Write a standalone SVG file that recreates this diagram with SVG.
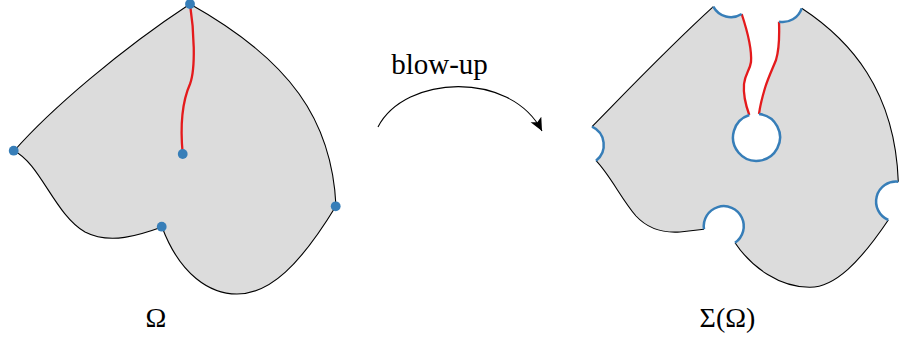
<svg xmlns="http://www.w3.org/2000/svg" width="899" height="340" viewBox="0 0 899 340">
<style>
.region{fill:#dcdcdc;stroke:none}
.edge{fill:none;stroke:#000;stroke-width:1.1}
.cut{fill:none;stroke:#e41a1c;stroke-width:2.3}
.bdry{fill:none;stroke:#377eb8;stroke-width:2.5}
.pt{fill:#377eb8}
.lbl{font-family:'Liberation Serif','DejaVu Serif',serif;fill:#000}
</style>
<defs>
<marker id="ah" markerUnits="userSpaceOnUse" markerWidth="16" markerHeight="14" refX="13" refY="6" orient="auto">
<path d="M0,0 L13,6 L0,12 L3,6 z" fill="#000"/>
</marker>
</defs>
<rect width="899" height="340" fill="#fff"/>

<g id="omega">
<path class="region" d="M190,4 C290,60 332,120 336,206 C300,265 270,294 237,294 C210,294 180,275 162,227 C140,235 110,245 85,232 C55,215 40,163 14,151 C50,110 120,50 190,4 Z"/>
<path class="edge" d="M190,4 C290,60 332,120 336,206 C300,265 270,294 237,294 C210,294 180,275 162,227 C140,235 110,245 85,232 C55,215 40,163 14,151 C50,110 120,50 190,4 Z"/>
<path class="cut" d="M190,4 C194,30 196,68 190,84 C182,102 180,125 182.7,154"/>
<circle class="pt" cx="190" cy="4" r="4.9"/>
<circle class="pt" cx="13.7" cy="150.7" r="4.9"/>
<circle class="pt" cx="161.7" cy="226.7" r="4.9"/>
<circle class="pt" cx="335.7" cy="206.3" r="4.9"/>
<circle class="pt" cx="182.7" cy="154" r="4.9"/>
<text class="lbl" x="156" y="326.7" font-size="28" text-anchor="middle">Ω</text>
</g>

<g id="sigma-omega">
<path class="region" d="M592,126.7 C630,88 670,46 713.3,6.7 A20,20 0 0 0 741.7,14 C747,30 752,48 751,62 C750,70 745,74 744,84 C743,96 746,106 749.3,115 A23.5,23.5 0 1 0 759,114 C760,106 762,98 765,88 C768,78 772,70 776,60 C779,50 779.5,35 779,21.7 A20,20 0 0 0 801.7,8.3 C850,40 895,90 898.3,181.7 A20,20 0 0 0 888.3,220 C860,262 835,287 810,287.3 C780,287.5 752,268 735,242.7 A20,20 0 1 0 704,229.3 L680,232 C665,233 648,229 636,216 C622,200 610,175 596,160.7 A20,20 0 0 0 592,126.7 Z"/>
<path class="edge" d="M592,126.7 C630,88 670,46 713.3,6.7"/>
<path class="edge" d="M801.7,8.3 C850,40 895,90 898.3,181.7"/>
<path class="edge" d="M888.3,220 C860,262 835,287 810,287.3 C780,287.5 752,268 735,242.7"/>
<path class="edge" d="M704,229.3 L680,232 C665,233 648,229 636,216 C622,200 610,175 596,160.7"/>
<path class="cut" d="M741.7,14 C747,30 752,48 751,62 C750,70 745,74 744,84 C743,96 746,106 749.3,115"/>
<path class="cut" d="M759,114 C760,106 762,98 765,88 C768,78 772,70 776,60 C779,50 779.5,35 779,21.7"/>
<path class="bdry" d="M713.3,6.7 A20,20 0 0 0 741.7,14"/>
<path class="bdry" d="M749.3,115 A23.5,23.5 0 1 0 759,114"/>
<path class="bdry" d="M779,21.7 A20,20 0 0 0 801.7,8.3"/>
<path class="bdry" d="M898.3,181.7 A20,20 0 0 0 888.3,220"/>
<path class="bdry" d="M735,242.7 A20,20 0 1 0 704,229.3"/>
<path class="bdry" d="M596,160.7 A20,20 0 0 0 592,126.7"/>
<text class="lbl" x="727.5" y="326.7" font-size="28" text-anchor="middle">Σ(Ω)</text>
</g>

<g id="connectors">
<path class="edge" d="M378,127 C405,75 510,70 542,131" marker-end="url(#ah)"/>
<text class="lbl" x="439.5" y="74.3" font-size="29" text-anchor="middle">blow-up</text>
</g>
</svg>
